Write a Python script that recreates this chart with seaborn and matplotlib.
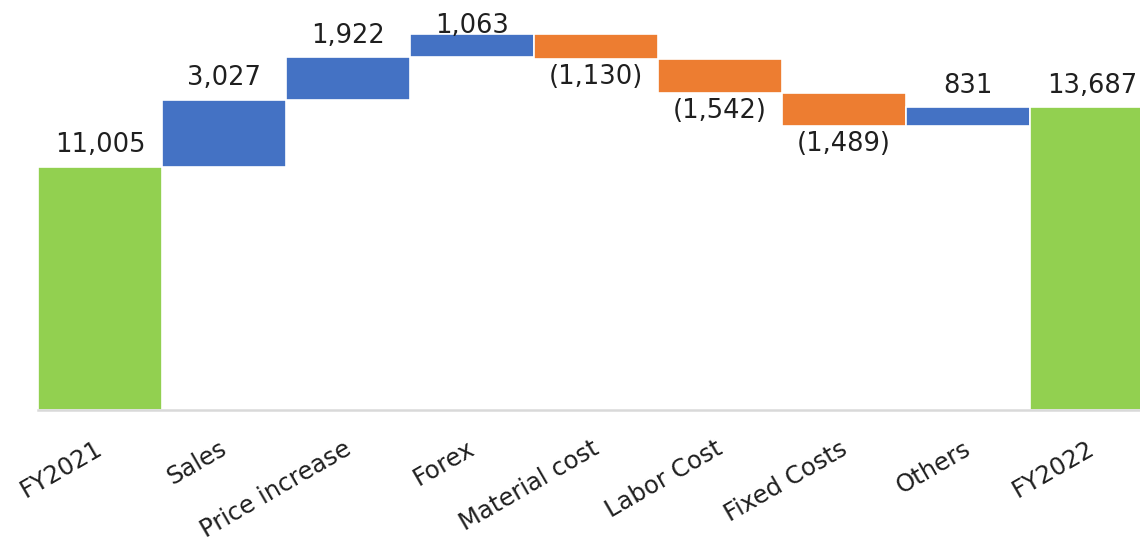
import matplotlib
matplotlib.use("Agg")
import matplotlib.pyplot as plt
import matplotlib.transforms as mtransforms
import seaborn as sns
import pandas as pd

# Operating profit bridge FY2021 -> FY2022
categories = ["FY2021", "Sales", "Price increase", "Forex", "Material cost",
              "Labor Cost", "Fixed Costs", "Others", "FY2022"]
changes = [11005, 3027, 1922, 1063, -1130, -1542, -1489, 831, 13687]
is_total = [True, False, False, False, False, False, False, False, True]

GREEN = "#92D050"
BLUE = "#4472C4"
ORANGE = "#ED7D31"
TEXT = "#1f1f1f"

# running start of each floating bar
starts = []
running = 0
for v, tot in zip(changes, is_total):
    if tot:
        starts.append(0)
        running = v
    else:
        starts.append(running)
        running += v

colors = [GREEN if t else (BLUE if v >= 0 else ORANGE)
          for v, t in zip(changes, is_total)]

df = pd.DataFrame({"category": categories, "change": changes, "start": starts})

sns.set_style("white")
plt.rcParams["font.family"] = ["DejaVu Sans"]

W, H, DPI = 1140, 541, 100
fig = plt.figure(figsize=(W / DPI, H / DPI), dpi=DPI)
ax_left, ax_bottom, ax_h = 38, 131, 410
ax = fig.add_axes([ax_left / W, ax_bottom / H, (W - ax_left) / W, ax_h / H])

sns.barplot(data=df, x="category", y="change", hue="category",
            palette=colors, order=categories, hue_order=categories,
            saturation=1, width=1.0, edgecolor="white", linewidth=1.2,
            errorbar=None, legend=False, ax=ax, zorder=2)

# lift each bar onto its running start
for patch, s in zip(ax.patches, starts):
    patch.set_y(s)

ymax = 18550
slot_px = 124
ax.set_ylim(0, ymax)
ax.set_xlim(-0.5, (W - ax_left) / slot_px - 0.5)

px_per_unit = ax_h / ymax
up_off = 21.5 / px_per_unit
down_off = 18 / px_per_unit
top_cap = ymax - 26 / px_per_unit

for i, (v, s, t) in enumerate(zip(changes, starts, is_total)):
    if v >= 0:
        y = min(s + v + up_off, top_cap)
        label = f"{v:,}"
    else:
        y = s + v - down_off
        label = f"({abs(v):,})"
    ax.text(i, y, label, ha="center", va="center", fontsize=18.5,
            color=TEXT, zorder=5)

ax.set_xlabel("")
ax.set_ylabel("")
ax.set_yticks([])
sns.despine(ax=ax, left=True, right=True, top=True)
ax.spines["bottom"].set_color("#D9D9D9")
ax.spines["bottom"].set_linewidth(1.8)
ax.spines["bottom"].set_zorder(3)

ax.tick_params(axis="x", length=0, pad=19, labelsize=17.5, labelcolor=TEXT)
shift = mtransforms.ScaledTranslation(-5 / DPI, 0, fig.dpi_scale_trans)
for lab in ax.get_xticklabels():
    lab.set_rotation(30)
    lab.set_ha("right")
    lab.set_rotation_mode("anchor")
    lab.set_transform(lab.get_transform() + shift)

fig.savefig("out.png", dpi=DPI)
